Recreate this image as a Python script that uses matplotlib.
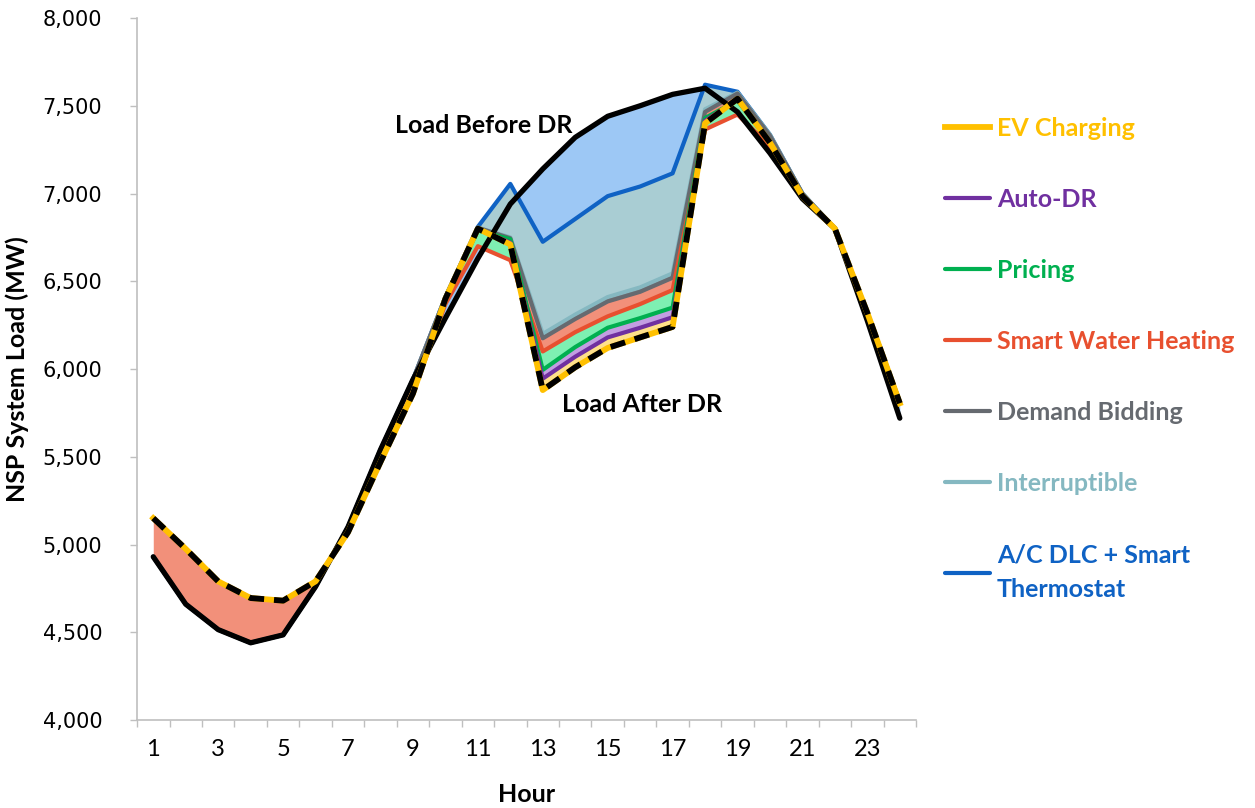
import matplotlib
matplotlib.use('Agg')
import matplotlib.pyplot as plt
from matplotlib.ticker import FuncFormatter, MultipleLocator

# --- data (MW, hours 1..24) ---
hours = list(range(1, 25))

before_dr = [4930, 4660, 4515, 4440, 4485, 4760, 5100, 5540, 5940, 6290, 6630, 6940,
             7140, 7320, 7440, 7500, 7565, 7600, 7465, 7230, 6970, 6800, 6275, 5720]
ac_dlc = [4930, 4660, 4515, 4440, 4485, 4760, 5100, 5540, 5940, 6410, 6810, 7055,
          6725, 6855, 6985, 7040, 7115, 7620, 7580, 7335, 7000, 6800, 6320, 5810]
interruptible = [4930, 4660, 4515, 4440, 4485, 4760, 5100, 5540, 5940, 6410, 6805, 6750,
                 6200, 6310, 6410, 6465, 6545, 7480, 7575, 7335, 7000, 6800, 6320, 5810]
demand_bidding = [4930, 4660, 4515, 4440, 4485, 4760, 5100, 5540, 5940, 6410, 6805, 6745,
                  6175, 6285, 6385, 6440, 6520, 7465, 7570, 7330, 7000, 6800, 6320, 5810]
water_heating = [5150, 4975, 4790, 4695, 4680, 4790, 5070, 5470, 5860, 6370, 6700, 6620,
                 6100, 6210, 6300, 6370, 6450, 7365, 7450, 7270, 6975, 6800, 6320, 5810]
pricing = [5150, 4975, 4790, 4695, 4680, 4790, 5070, 5470, 5860, 6400, 6790, 6740,
           5995, 6125, 6235, 6290, 6350, 7430, 7530, 7290, 6985, 6800, 6320, 5810]
auto_dr = [5150, 4975, 4790, 4695, 4680, 4790, 5070, 5470, 5860, 6400, 6800, 6720,
           5945, 6070, 6180, 6235, 6295, 7415, 7535, 7290, 6985, 6800, 6320, 5810]
ev_charging = [5150, 4975, 4790, 4695, 4680, 4790, 5070, 5470, 5860, 6400, 6800, 6710,
               5880, 6010, 6120, 6180, 6240, 7400, 7540, 7290, 6985, 6800, 6320, 5805]

# stacked from top to bottom: (name, values, line colour, fill colour below previous line)
layers = [
    ("A/C DLC + Smart\nThermostat", ac_dlc, '#0F62C4', '#9DC8F5'),
    ("Interruptible", interruptible, '#85B8C1', '#A9CDD3'),
    ("Demand Bidding", demand_bidding, '#666A70', '#8C9095'),
    ("Smart Water Heating", water_heating, '#E8502F', '#F2907A'),
    ("Pricing", pricing, '#00B050', '#7EF0B2'),
    ("Auto-DR", auto_dr, '#7030A0', '#C39EE2'),
    ("EV Charging", ev_charging, '#FFC000', '#FFE08A'),
]

plt.rcParams['font.family'] = ['Lato', 'DejaVu Sans']

fig = plt.figure(figsize=(12.55, 8.08), dpi=100)
ax = fig.add_axes([0.1092, 0.1089, 0.6207, 0.8688])

# fills between consecutive curves
prev = before_dr
for name, vals, lc, fc in layers:
    ax.fill_between(hours, prev, vals, color=fc, linewidth=0, zorder=1)
    prev = vals

handles = {}
for name, vals, lc, fc in layers[:-1]:
    h, = ax.plot(hours, vals, color=lc, lw=3, zorder=2, solid_capstyle='round')
    handles[name] = h

ax.plot(hours, before_dr, color='black', lw=3.8, zorder=3, solid_capstyle='round')

name, vals, lc, fc = layers[-1]
h, = ax.plot(hours, vals, color=lc, lw=4.2, zorder=4)
handles[name] = h
ax.plot(hours, vals, color='black', lw=4.2, zorder=5, dashes=(2.6, 1.7))

ax.text(8.45, 7390, "Load Before DR", fontsize=18, fontweight='bold', va='center', ha='left')
ax.text(13.6, 5795, "Load After DR", fontsize=18, fontweight='bold', va='center', ha='left')

# axes
ax.set_xlim(0.5, 24.5)
ax.set_ylim(4000, 8000)
ax.yaxis.set_major_locator(MultipleLocator(500))
ax.yaxis.set_major_formatter(FuncFormatter(lambda v, p: f"{v:,.0f}"))
ax.set_xticks(range(1, 25, 2))
ax.set_xticks([h + 0.5 for h in range(0, 25)], minor=True)
ax.tick_params(axis='x', which='major', length=0, pad=14, labelsize=17)
ax.tick_params(axis='x', which='minor', length=5, color='#BFBFBF', width=1)
ax.tick_params(axis='y', length=5, color='#BFBFBF', width=1, labelsize=15, pad=20)
for lab in ax.get_yticklabels():
    lab.set_family('DejaVu Sans')
    lab.set_fontsize(15)

for s in ['top', 'right']:
    ax.spines[s].set_visible(False)
for s in ['left', 'bottom']:
    ax.spines[s].set_color('#BFBFBF')
    ax.spines[s].set_linewidth(1.2)

ax.set_xlabel("Hour", fontsize=18, fontweight='bold', labelpad=16)
ax.set_ylabel("NSP System Load (MW)", fontsize=18, fontweight='bold', labelpad=10)

# legend (top to bottom order as in the original)
order = ["EV Charging", "Auto-DR", "Pricing", "Smart Water Heating",
         "Demand Bidding", "Interruptible", "A/C DLC + Smart\nThermostat"]
leg = fig.legend([handles[n] for n in order], order, loc='upper left',
                 bbox_to_anchor=(0.753, 0.855), frameon=False, borderpad=0,
                 borderaxespad=0, labelcolor='linecolor',
                 prop={'weight': 'bold', 'size': 18},
                 handlelength=1.8, handletextpad=0.28, labelspacing=1.92)
for t in leg.get_texts():
    t.set_linespacing(1.6)

fig.savefig("out.png", dpi=100)
